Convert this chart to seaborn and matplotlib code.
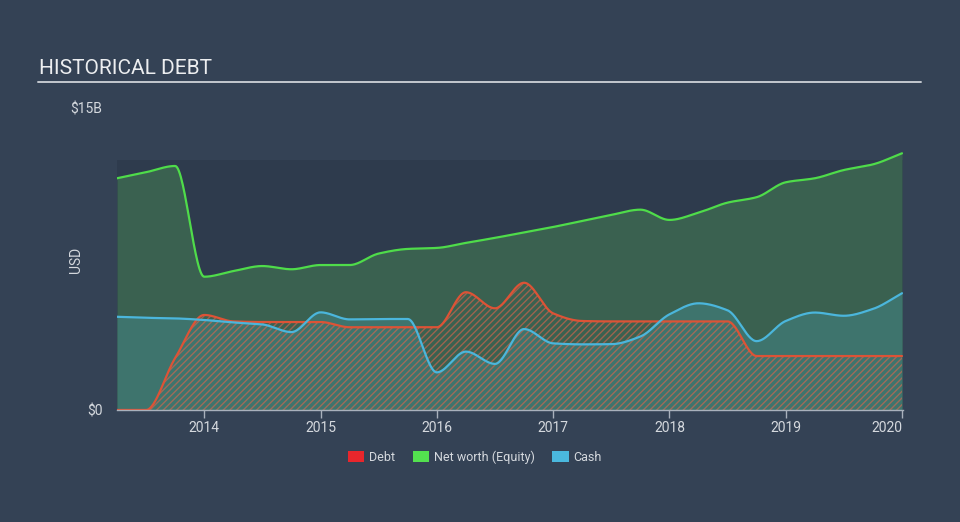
import numpy as np
import pandas as pd
import matplotlib
matplotlib.use("Agg")
import matplotlib.pyplot as plt
from matplotlib.patches import Patch
from matplotlib.lines import Line2D
import seaborn as sns

# quarterly reporting dates (decimal years)
dates = [2013.25, 2013.5, 2013.75, 2014.0, 2014.25, 2014.5, 2014.75,
         2015.0, 2015.25, 2015.5, 2015.75, 2016.0, 2016.25, 2016.5, 2016.75,
         2017.0, 2017.25, 2017.5, 2017.75, 2018.0, 2018.25, 2018.5, 2018.75,
         2019.0, 2019.25, 2019.5, 2019.75, 2020.0]

# values in $B
debt = [0.0, 0.0, 2.58, 4.72, 4.40, 4.37, 4.37,
        4.37, 4.11, 4.11, 4.11, 4.11, 5.85, 5.05, 6.32,
        4.80, 4.42, 4.40, 4.40, 4.40, 4.40, 4.40, 2.68,
        2.68, 2.68, 2.68, 2.68, 2.68]
net_worth = [11.51, 11.81, 12.12, 6.62, 6.90, 7.15, 6.99,
             7.20, 7.20, 7.77, 8.00, 8.05, 8.30, 8.55, 8.82,
             9.09, 9.39, 9.69, 9.95, 9.44, 9.80, 10.30, 10.57,
             11.31, 11.51, 11.92, 12.20, 12.75]
cash = [4.63, 4.58, 4.55, 4.47, 4.35, 4.25, 3.87,
        4.85, 4.50, 4.52, 4.52, 1.87, 2.90, 2.29, 4.02,
        3.31, 3.26, 3.27, 3.65, 4.75, 5.30, 4.95, 3.42,
        4.42, 4.84, 4.68, 5.02, 5.80]

year_ticks = [2014, 2015, 2016, 2017, 2018, 2019, 2020]
y_ticks = [0, 15]
y_tick_labels = ["$0", "$15B"]

BG = "#344255"
PANEL = "#2e3b4d"
TEXT = "#d5d9de"
DEBT_C = "#dd5336"
NW_C = "#4fdc4a"
CASH_C = "#4bb6dc"


def smooth(x, y, n=800):
    # monotone cubic curve through the points (like the original's curve style)
    x = np.asarray(x, float)
    y = np.asarray(y, float)
    h = np.diff(x)
    d = np.diff(y) / h
    m = np.zeros_like(y)
    m[0], m[-1] = d[0], d[-1]
    for i in range(1, len(y) - 1):
        if d[i - 1] * d[i] <= 0:
            m[i] = 0.0
        else:
            w1 = 2 * h[i] + h[i - 1]
            w2 = h[i] + 2 * h[i - 1]
            m[i] = (w1 + w2) / (w1 / d[i - 1] + w2 / d[i])
    xs = np.linspace(x[0], x[-1], n)
    k = np.clip(np.searchsorted(x, xs, side="right") - 1, 0, len(h) - 1)
    t = (xs - x[k]) / h[k]
    h00 = 2 * t**3 - 3 * t**2 + 1
    h10 = t**3 - 2 * t**2 + t
    h01 = -2 * t**3 + 3 * t**2
    h11 = t**3 - t**2
    ys = h00 * y[k] + h10 * h[k] * m[k] + h01 * y[k + 1] + h11 * h[k] * m[k + 1]
    return xs, ys


def main():
    sns.set_style("dark")
    plt.rcParams["font.family"] = ["Roboto", "DejaVu Sans"]
    plt.rcParams["hatch.linewidth"] = 1.0

    curves = {}
    for name, vals in [("Debt", debt), ("Net worth (Equity)", net_worth), ("Cash", cash)]:
        xs, ys = smooth(dates, vals)
        curves[name] = pd.DataFrame({"date": xs, "value": ys})

    fig = plt.figure(figsize=(9.6, 5.22), dpi=100, facecolor=BG)
    ax = fig.add_axes([117 / 960, 1 - 410 / 522, (902.6 - 117) / 960, (410 - 108) / 522])
    ax.set_facecolor(BG)

    # darker data panel behind the series
    ax.axhspan(0, 12.42, color=PANEL, zorder=0, lw=0)

    nw = curves["Net worth (Equity)"]
    ca = curves["Cash"]
    de = curves["Debt"]

    ax.fill_between(nw["date"], 0, nw["value"], color="#3a6150", lw=0, zorder=1)
    ax.fill_between(ca["date"], 0, ca["value"], color="#3e746d", lw=0, zorder=2)
    ax.fill_between(de["date"], 0, de["value"], facecolor="none",
                    edgecolor=(0.87, 0.40, 0.30, 0.6), hatch="/////", lw=0, zorder=3)

    sns.lineplot(data=nw, x="date", y="value", color=NW_C, lw=1.6, ax=ax, zorder=4)
    sns.lineplot(data=de, x="date", y="value", color=DEBT_C, lw=1.6, ax=ax, zorder=5)
    sns.lineplot(data=ca, x="date", y="value", color=CASH_C, lw=1.6, ax=ax, zorder=6)

    ax.set_xlim(dates[0], dates[-1] + 0.005)
    ax.set_ylim(0, 15)
    ax.set_xlabel("")
    ax.set_ylabel("")
    ax.grid(False)

    for side in ["top", "right", "left"]:
        ax.spines[side].set_visible(False)
    ax.spines["bottom"].set_visible(True)
    ax.spines["bottom"].set_color("#a9b1bc")
    ax.spines["bottom"].set_linewidth(1.0)
    ax.spines["bottom"].set_zorder(7)

    ax.set_xticks(year_ticks)
    ax.set_xticklabels([str(y) for y in year_ticks])
    ax.tick_params(axis="x", colors="#a9b1bc", length=6, width=1, pad=2,
                   labelcolor=TEXT, labelsize=10, bottom=True)
    ax.get_xticklabels()[-1].set_horizontalalignment("right")
    ax.set_yticks(y_ticks)
    ax.set_yticklabels(y_tick_labels)
    ax.tick_params(axis="y", length=0, pad=10.5, labelcolor=TEXT, labelsize=10)

    fig.text(76 / 960, 1 - 260 / 522, "USD", rotation=90, ha="center", va="center",
             color=TEXT, fontsize=10)

    # title and rule
    fig.text(39 / 960, 1 - 69 / 522, "HISTORICAL DEBT", ha="left", va="center",
             color="#eceef0", fontsize=15)
    fig.add_artist(Line2D([38 / 960, 921 / 960], [1 - 82 / 522, 1 - 82 / 522],
                          color="#c3c8cf", lw=1.4, transform=fig.transFigure))

    handles = [Patch(facecolor="#e8262c", edgecolor="none", label="Debt"),
               Patch(facecolor="#53e04f", edgecolor="none", label="Net worth (Equity)"),
               Patch(facecolor="#4ab8de", edgecolor="none", label="Cash")]
    fig.legend(handles=handles, loc="center", bbox_to_anchor=(475 / 960, 1 - 457 / 522),
               ncol=3, frameon=False, fontsize=9, labelcolor=TEXT,
               handlelength=1.3, handleheight=0.9, handletextpad=0.4, columnspacing=1.4)

    fig.savefig("out.png", dpi=100, facecolor=BG)
    plt.close(fig)


if __name__ == "__main__":
    main()
